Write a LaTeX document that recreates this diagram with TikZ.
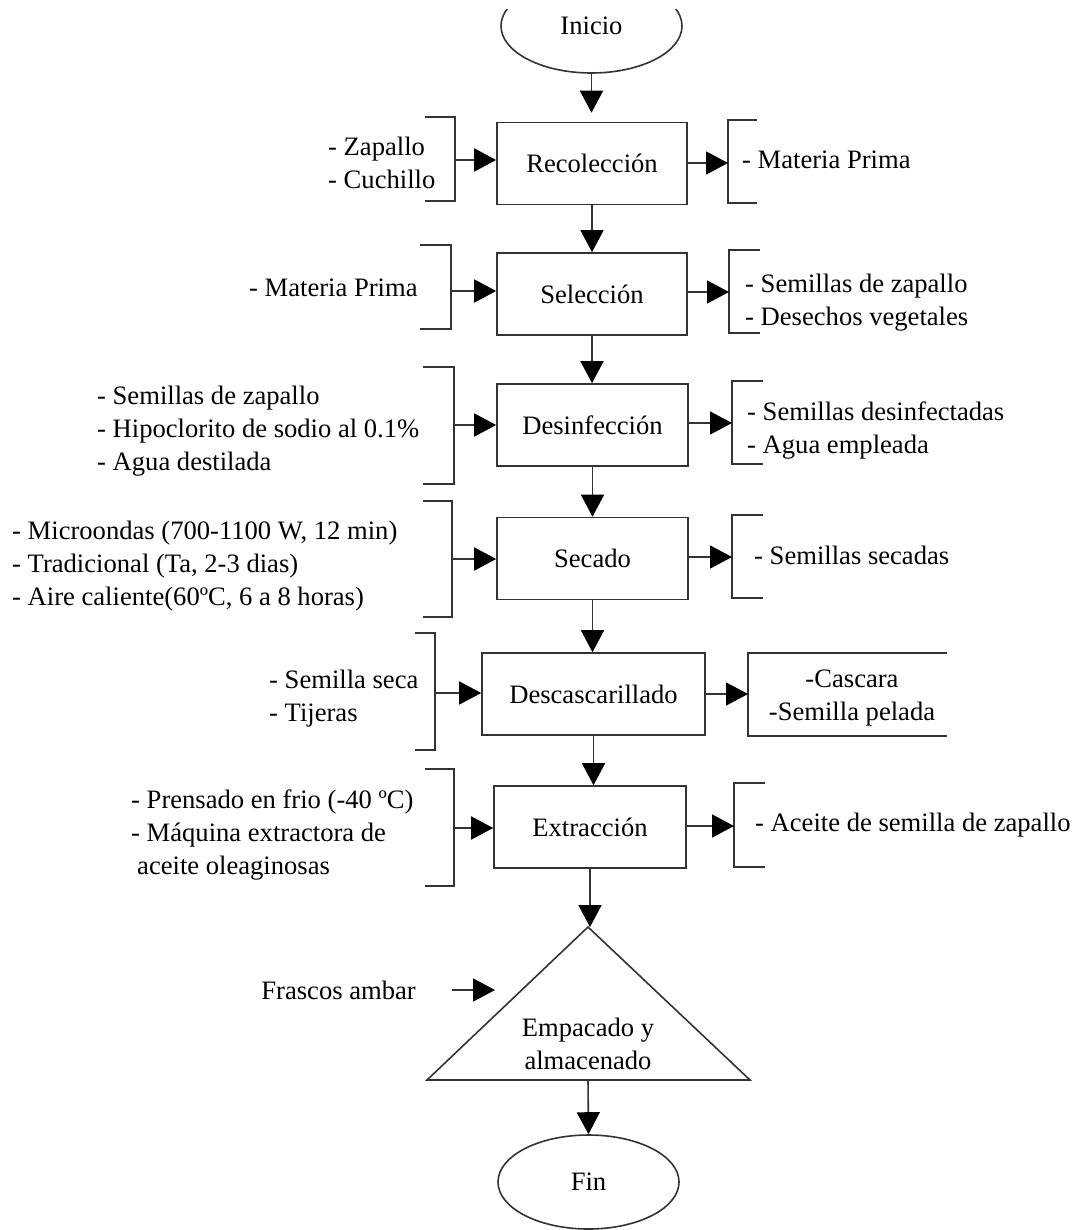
\documentclass[tikz,border=0pt]{standalone}
\usepackage{fontspec}
\setmainfont{Liberation Serif}
\usepackage{tikz}
\usetikzlibrary{arrows.meta,shapes.geometric}

\begin{document}
\begin{tikzpicture}[x=1pt,y=-1pt,
  linea/.style={line width=1.6pt, draw=black!80},
  flecha/.style={linea, -{Triangle[length=22pt,width=23pt,color=black]}},
  caja/.style={draw=black!80, line width=1.6pt, minimum width=#1, minimum height=82pt, inner sep=0pt,
    font=\fontsize{26.6}{33}\selectfont},
  terminal/.style={ellipse, draw=black!80, line width=1.6pt, minimum width=181pt, minimum height=94pt,
    inner sep=0pt, font=\fontsize{26.6}{33}\selectfont},
  texto/.style={inner sep=0pt, align=left, font=\fontsize{26.6}{33}\selectfont}]
  \useasboundingbox (0,0) rectangle (1079,1230);
  \clip (0,10) rectangle (1079,1230);

  % Proceso principal
  \node[terminal] (ini) at (591.5,26) {Inicio};
  \node[caja=190pt] (rec) at (592,163.5) {Recolección};
  \node[caja=190pt] (sel) at (592,294) {Selección};
  \node[caja=191pt] (des) at (592.5,425) {Desinfección};
  \node[caja=191pt] (sec) at (592.5,558.5) {Secado};
  \node[caja=223pt] (desc) at (593.5,694) {Descascarillado};
  \node[caja=192pt] (ext) at (590,827) {Extracción};
  \coordinate (empTop) at (588,927);
  \coordinate (empBot) at (588,1080);
  \draw[linea] (empTop) -- (427,1080) -- (750,1080) -- cycle;
  \node[texto, align=center] (emp) at (588,1044) {Empacado y\\almacenado};
  \node[terminal] (fin) at (588.5,1182) {Fin};

  \draw[flecha, shorten >=9pt] (ini.south) -- (ini.south |- rec.north);
  \draw[flecha] (rec.south) -- (rec.south |- sel.north);
  \draw[flecha] (sel.south) -- (sel.south |- des.north);
  \draw[flecha] (des.south) -- (des.south |- sec.north);
  \draw[flecha] (sec.south) -- (sec.south |- desc.north);
  \draw[flecha] (desc.south) -- (desc.south |- ext.north);
  \draw[flecha] (ext.south) -- (ext.south |- empTop);
  \draw[flecha] (empBot) -- (fin.north);

  % Entradas (izquierda)
  \node[texto, anchor=west] (recIzq) at (328,162.5) {- Zapallo\\- Cuchillo};
  \draw[linea] (425,117) -- (455,117) -- (455,201) -- (425,201);
  \coordinate (recIn) at (455,160);
  \draw[flecha] (recIn) -- (recIn -| rec.west);

  \node[texto, anchor=west] (selIzq) at (249,288) {- Materia Prima};
  \draw[linea] (420,245) -- (451,245) -- (451,329) -- (420,329);
  \coordinate (selIn) at (451,291);
  \draw[flecha] (selIn) -- (selIn -| sel.west);

  \node[texto, anchor=west] (desIzq) at (97,431) {- Semillas de zapallo\\- Hipoclorito de sodio al 0.1\%\\- Agua destilada};
  \draw[linea] (423,367) -- (454,367) -- (454,484) -- (423,484);
  \coordinate (desIn) at (454,425);
  \draw[flecha] (desIn) -- (desIn -| des.west);

  \node[texto, anchor=west] (secIzq) at (12,566.5) {- Microondas (700-1100 W, 12 min)\\- Tradicional (Ta, 2-3 dias)\\- Aire caliente(60ºC, 6 a 8 horas)};
  \draw[linea] (423,501) -- (452,501) -- (452,617) -- (423,617);
  \coordinate (secIn) at (452,559);
  \draw[flecha] (secIn) -- (secIn -| sec.west);

  \node[texto, anchor=west] (descIzq) at (269,698.5) {- Semilla seca\\- Tijeras};
  \draw[linea] (415,633) -- (435,633) -- (435,750) -- (415,750);
  \coordinate (descIn) at (435,693);
  \draw[flecha] (descIn) -- (descIn -| desc.west);

  \node[texto, anchor=west] (extIzq) at (131,835) {- Prensado en frio (-40 ºC)\\- Máquina extractora de\\\hspace*{6pt}aceite oleaginosas};
  \draw[linea] (425,769) -- (454,769) -- (454,886) -- (425,886);
  \coordinate (extIn) at (454,828);
  \draw[flecha] (extIn) -- (extIn -| ext.west);

  \node[texto, anchor=east] (frascos) at (416,990) {Frascos ambar};
  \coordinate (frascosIn) at (452,990);
  \coordinate (frascosTip) at (495,990);
  \draw[flecha] (frascosIn) -- (frascosTip);

  % Salidas (derecha)
  \draw[linea] (757,120) -- (728,120) -- (728,203) -- (757,203);
  \coordinate (recOut) at (728,163);
  \draw[flecha] (rec.east |- recOut) -- (recOut);
  \node[texto, anchor=west] (recDer) at (742,160) {- Materia Prima};

  \draw[linea] (760,250) -- (729,250) -- (729,333) -- (760,333);
  \coordinate (selOut) at (729,292);
  \draw[flecha] (sel.east |- selOut) -- (selOut);
  \node[texto, anchor=west] (selDer) at (745,302.5) {- Semillas de zapallo\\- Desechos vegetales};

  \draw[linea] (763,381) -- (732,381) -- (732,464) -- (763,464);
  \coordinate (desOut) at (732,423);
  \draw[flecha] (des.east |- desOut) -- (desOut);
  \node[texto, anchor=west] (desDer) at (747,430.5) {- Semillas desinfectadas\\- Agua empleada};

  \draw[linea] (763,515) -- (732,515) -- (732,598) -- (763,598);
  \coordinate (secOut) at (732,557);
  \draw[flecha] (sec.east |- secOut) -- (secOut);
  \node[texto, anchor=west] (secDer) at (754,555) {- Semillas secadas};

  \draw[linea] (947,653) -- (748,653) -- (748,736) -- (947,736);
  \coordinate (descOut) at (748,694);
  \draw[flecha] (desc.east |- descOut) -- (descOut);
  \node[texto, align=center] (descDer) at (852,698.5) {-Cascara\\-Semilla pelada};

  \draw[linea] (765,783) -- (734,783) -- (734,867) -- (765,867);
  \coordinate (extOut) at (734,826);
  \draw[flecha] (ext.east |- extOut) -- (extOut);
  \node[texto, anchor=west] (extDer) at (755,825) {- Aceite de semilla de zapallo};
\end{tikzpicture}
\end{document}
